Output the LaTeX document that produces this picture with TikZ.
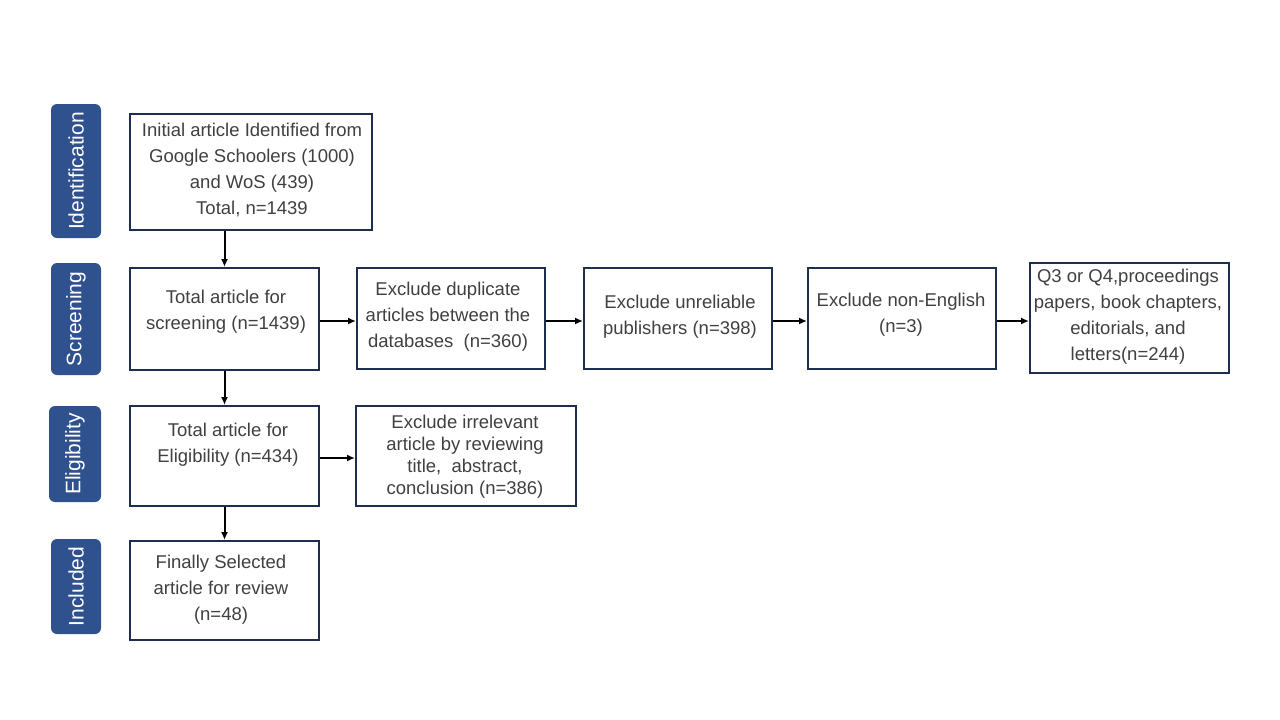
\documentclass[tikz,border=0pt]{standalone}
\usepackage{fontspec}
\setmainfont{Liberation Sans}
\usetikzlibrary{arrows.meta}
\definecolor{lblue}{RGB}{47,82,143}
\definecolor{navy}{RGB}{31,45,80}
\definecolor{tgray}{RGB}{64,64,64}
\tikzset{
  stage/.style={fill=lblue, draw=none, rounded corners=6pt, inner sep=0pt},
  stagetext/.style={text=white, rotate=90, font=\fontsize{21}{24}\selectfont},
  box/.style={draw=navy, line width=2pt, inner sep=0pt, fill=white},
  txt/.style={align=center, text=tgray, font=\fontsize{18.5}{26}\selectfont, inner sep=0pt},
  arr/.style={line width=2pt, -{Latex[length=8pt,width=7pt]}, black}
}
\begin{document}
\begin{tikzpicture}[x=1pt,y=-1pt]
\useasboundingbox (0,0) rectangle (1280,720);
% stage labels
\node[stage, minimum width=50pt, minimum height=134pt] (sid) at (76,171) {};
\node[stagetext] (sidt) at (sid) {Identification};
\node[stage, minimum width=50pt, minimum height=112pt] (ssc) at (76,319) {};
\node[stagetext] (ssct) at (ssc) {Screening};
\node[stage, minimum width=52pt, minimum height=96pt] (sel) at (75,454) {};
\node[stagetext] (selt) at (sel) {Eligibility};
\node[stage, minimum width=50pt, minimum height=95pt] (sin) at (76,586.5) {};
\node[stagetext] (sint) at (sin) {Included};
% boxes
\node[box, minimum width=242pt, minimum height=116pt] (init) at (251,172) {};
\node[txt] (initt) at (252,170) {Initial article Identified from\\Google Schoolers (1000)\\and WoS (439)\\Total, n=1439};
\node[box, minimum width=189pt, minimum height=102pt] (scr) at (224.5,319) {};
\node[txt] (scrt) at (226,312) {Total article for\\screening (n=1439)};
\node[box, minimum width=188pt, minimum height=101pt] (dup) at (451,318.5) {};
\node[txt] (dupt) at (448,317) {Exclude duplicate\\articles between the\\databases\ \ (n=360)};
\node[box, minimum width=188pt, minimum height=101pt] (unr) at (678,318.5) {};
\node[txt] (unrt) at (680,317) {Exclude unreliable\\publishers (n=398)};
\node[box, minimum width=188pt, minimum height=101pt] (nen) at (902,318.5) {};
\node[txt] (nent) at (901,315) {Exclude non-English\\(n=3)};
\node[box, minimum width=199pt, minimum height=110pt] (q34) at (1129.5,318) {};
\node[txt] (q34t) at (1128,317) {Q3 or Q4,proceedings\\papers, book chapters,\\editorials, and\\letters(n=244)};
\node[box, minimum width=189pt, minimum height=100pt] (eli) at (224.5,456) {};
\node[txt] (elit) at (228,445) {Total article for\\Eligibility (n=434)};
\node[box, minimum width=220pt, minimum height=100pt] (irr) at (466,456) {};
\node[txt, font=\fontsize{18.5}{22}\selectfont] (irrt) at (465,457) {Exclude irrelevant\\article by reviewing\\title,\ \ abstract,\\conclusion (n=386)};
\node[box, minimum width=189pt, minimum height=99pt] (fin) at (224.5,590.5) {};
\node[txt] (fint) at (221,590) {Finally Selected\\article for review\\(n=48)};
% arrows
\draw[arr] (init.south -| scr.north) -- (scr.north);
\draw[arr] (scr.south) -- (eli.north);
\draw[arr] (eli.south) -- (fin.north);
\draw[arr] (scr.east |- 0,321) -- (dup.west |- 0,321);
\draw[arr] (dup.east |- 0,321) -- (unr.west |- 0,321);
\draw[arr] (unr.east |- 0,321) -- (nen.west |- 0,321);
\draw[arr] (nen.east |- 0,321) -- (q34.west |- 0,321);
\draw[arr] (eli.east |- 0,458) -- (irr.west |- 0,458);
\end{tikzpicture}
\end{document}
